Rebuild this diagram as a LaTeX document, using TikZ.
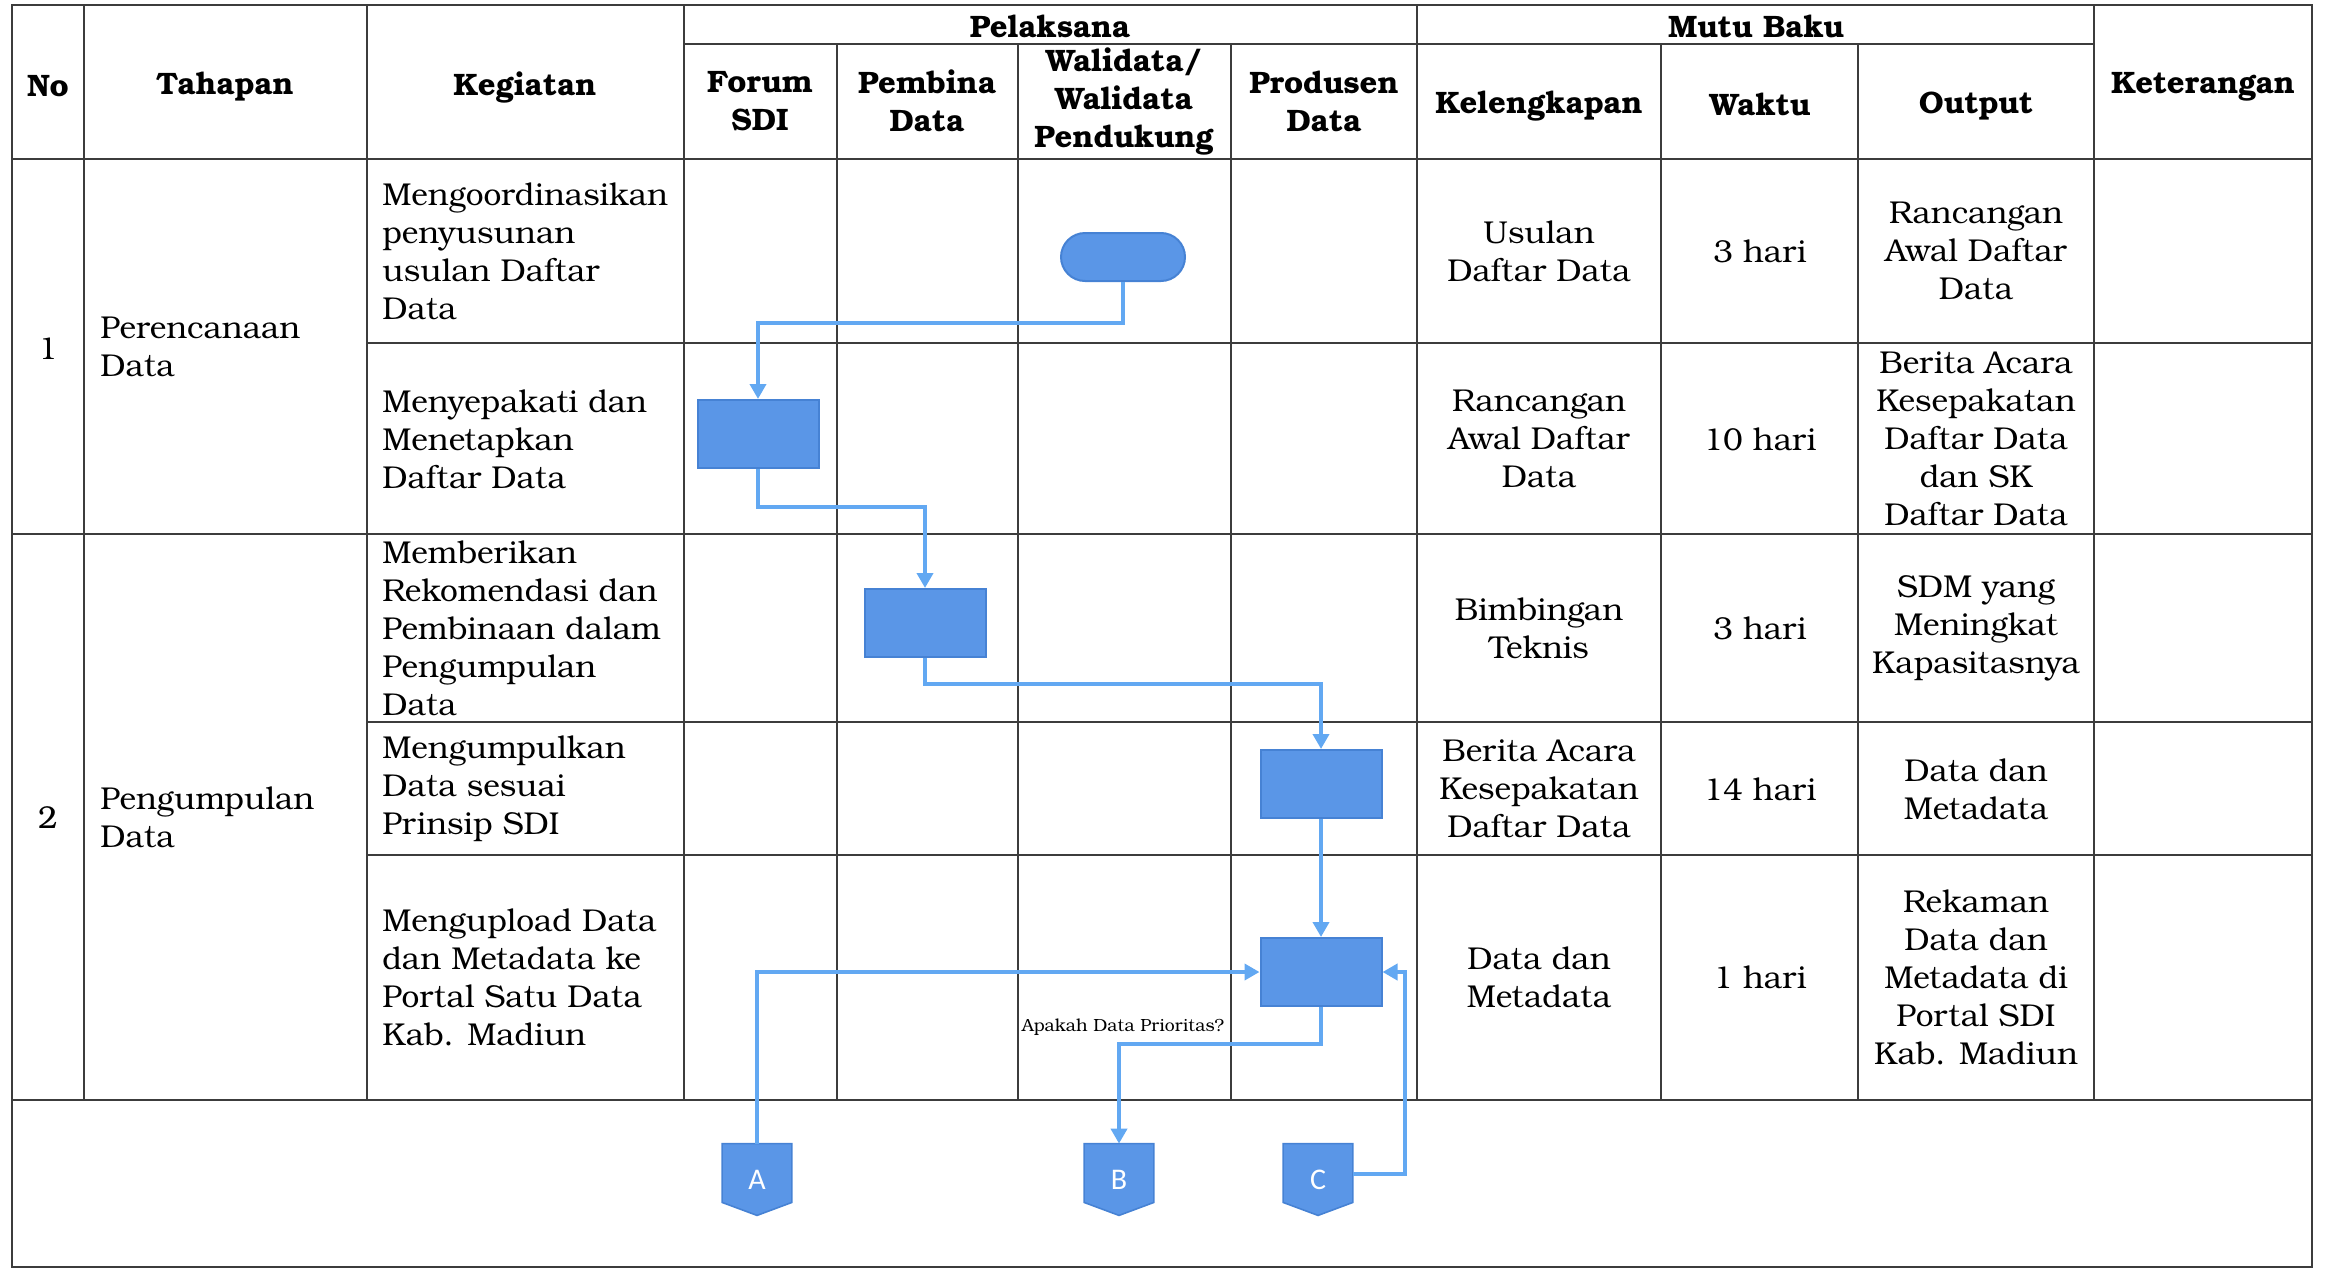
\documentclass[tikz,border=0pt]{standalone}
\usepackage{fontspec}
\setmainfont{texgyrebonum}[Extension=.otf, UprightFont=*-regular, BoldFont=*-bold, ItalicFont=*-italic, BoldItalicFont=*-bolditalic]
\newfontfamily\lettfont{Carlito}
\usetikzlibrary{arrows.meta,calc,backgrounds}
\definecolor{gridc}{HTML}{3C3C3C}
\definecolor{boxfill}{HTML}{5A96E7}
\definecolor{boxline}{HTML}{4682D4}
\definecolor{flowc}{HTML}{62A8F2}
\begin{document}
\begin{tikzpicture}[x=0.5pt,y=-0.5pt,
 grid/.style={draw=gridc,line width=1.2pt},
 hd/.style={font=\fontsize{15.5}{19}\selectfont\bfseries,align=center,inner sep=0pt},
 tx/.style={font=\fontsize{15.8}{19}\selectfont,align=center,inner sep=0pt},
 txl/.style={font=\fontsize{15.8}{19}\selectfont,align=left,inner sep=0pt,anchor=west},
 proc/.style={draw=boxline,fill=boxfill,line width=1pt,minimum width=60.5pt,minimum height=34pt,inner sep=0pt},
 termbox/.style={draw=boxline,fill=boxfill,line width=1pt,rounded corners=12pt,minimum width=62pt,minimum height=24pt,inner sep=0pt},
 offp/.style={minimum width=34.5pt,minimum height=35.5pt,inner sep=0pt,text=white,font=\lettfont\fontsize{15}{17}\selectfont},
 offfill/.style={fill=boxfill,draw=boxline,line width=0.8pt},
 flow/.style={draw=flowc,line width=2pt,-{Triangle[width=8pt,length=7.5pt]}},
 qlabel/.style={font=\fontsize{8.8}{10}\selectfont,inner sep=0pt},
]
\useasboundingbox (0,0) rectangle (2327,1269);
% ---- table grid ----
\draw[grid] (12,5) rectangle (2312,1267);
\draw[grid] (684,44) -- (2094,44);
\draw[grid] (12,159) -- (2312,159);
\draw[grid] (367,343) -- (2312,343);
\draw[grid] (12,534) -- (2312,534);
\draw[grid] (367,722) -- (2312,722);
\draw[grid] (367,855) -- (2312,855);
\draw[grid] (12,1100) -- (2312,1100);
\foreach \xx in {84,367,684,1417,2094} {\draw[grid] (\xx,5) -- (\xx,1100);}
\foreach \xx in {837,1018,1231,1661,1858} {\draw[grid] (\xx,44) -- (\xx,1100);}
% ---- headers ----
\node[hd] (hNo) at (48,86) {No};
\node[hd] (hTah) at (225,87) {Tahapan};
\node[hd] (hKeg) at (525,87) {Kegiatan};
\node[hd] (hPel) at (1050,26) {Pelaksana};
\node[hd] (hMut) at (1756,26) {Mutu Baku};
\node[hd] (hFor) at (760,101) {Forum\\SDI};
\node[hd] (hPem) at (927,101) {Pembina\\Data};
\node[hd] (hWal) at (1124,101) {Walidata/\\Walidata\\Pendukung};
\node[hd] (hPro) at (1324,101) {Produsen\\Data};
\node[hd] (hKel) at (1539,106) {Kelengkapan};
\node[hd] (hWak) at (1760,104) {Waktu};
\node[hd] (hOut) at (1976,106) {Output};
\node[hd] (hKet) at (2203,87) {Keterangan};
% ---- stage column ----
\node[tx] (no1) at (48,349) {1};
\node[txl] (tah1) at (100,347) {Perencanaan\\Data};
\node[tx] (no2) at (48,818) {2};
\node[txl] (tah2) at (100,817) {Pengumpulan\\Data};
% ---- row 1 ----
\node[txl] (keg1) at (382,251) {Mengoordinasikan\\penyusunan\\usulan Daftar\\Data};
\node[tx] (kel1) at (1539,251) {Usulan\\Daftar Data};
\node[tx] (wak1) at (1760,251) {3 hari};
\node[tx] (out1) at (1976,251) {Rancangan\\Awal Daftar\\Data};
% ---- row 2 ----
\node[txl] (keg2) at (382,439) {Menyepakati dan\\Menetapkan\\Daftar Data};
\node[tx] (kel2) at (1539,439) {Rancangan\\Awal Daftar\\Data};
\node[tx] (wak2) at (1760,439) {10 hari};
\node[tx] (out2) at (1976,439) {Berita Acara\\Kesepakatan\\Daftar Data\\dan SK\\Daftar Data};
% ---- row 3 ----
\node[txl] (keg3) at (382,628) {Memberikan\\Rekomendasi dan\\Pembinaan dalam\\Pengumpulan\\Data};
\node[tx] (kel3) at (1539,628) {Bimbingan\\Teknis};
\node[tx] (wak3) at (1760,628) {3 hari};
\node[tx] (out3) at (1976,628) {SDM yang\\Meningkat\\Kapasitasnya};
% ---- row 4 ----
\node[txl] (keg4) at (382,789) {Mengumpulkan\\Data sesuai\\Prinsip SDI};
\node[tx] (kel4) at (1539,789) {Berita Acara\\Kesepakatan\\Daftar Data};
\node[tx] (wak4) at (1760,789) {14 hari};
\node[tx] (out4) at (1976,789) {Data dan\\Metadata};
% ---- row 5 ----
\node[txl] (keg5) at (382,977) {Mengupload Data\\dan Metadata ke\\Portal Satu Data\\Kab. Madiun};
\node[tx] (kel5) at (1539,977) {Data dan\\Metadata};
\node[tx] (wak5) at (1760,977) {1 hari};
\node[tx] (out5) at (1976,977) {Rekaman\\Data dan\\Metadata di\\Portal SDI\\Kab. Madiun};
% ---- flow shapes ----
\node[termbox] (term) at (1123,257) {};
\node[proc] (b1) at (758,434) {};
\node[proc] (b2) at (925,623) {};
\node[proc] (b3) at (1321,784) {};
\node[proc] (b4) at (1321,972) {};
\node[offp] (A) at (757,1179.5) {A};
\node[offp] (B) at (1119,1179.5) {B};
\node[offp] (C) at (1318,1179.5) {C};
\begin{pgfonlayer}{background}
\foreach \nn in {A,B,C} {
  \path[offfill] (\nn.north west) -- (\nn.north east) -- ($(\nn.south east)+(0,-13)$) -- (\nn.south) -- ($(\nn.south west)+(0,-13)$) -- cycle;
}
\end{pgfonlayer}
\node[qlabel] (q) at (1123,1027) {Apakah Data Prioritas?};
% ---- connectors ----
\draw[flow] (term.south) -- ++(0,41) -| (b1.north);
\draw[flow] (b1.south) -- ++(0,38) -| (b2.north);
\draw[flow] (b2.south) -- ++(0,26) -| (b3.north);
\draw[flow] (b3.south) -- (b4.north);
\draw[flow] (A.north) |- (b4.west);
\draw[flow] (b4.south) -- ++(0,37) -| (B.north);
\draw[flow] ($(C.east)+(0,-6)$) -- ++(52,0) |- (b4.east);
\end{tikzpicture}
\end{document}
